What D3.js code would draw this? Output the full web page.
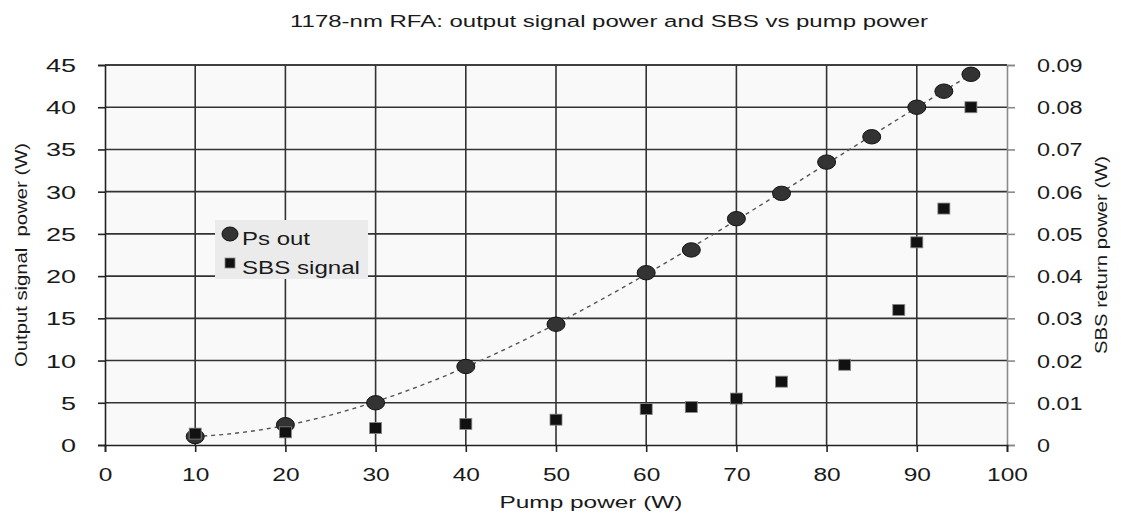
<!DOCTYPE html>
<html><head><meta charset="utf-8">
<script src="https://cdn.jsdelivr.net/npm/d3@7"></script>
<style>body{margin:0;background:#fff}svg{display:block;font-family:"Liberation Sans",Arial,sans-serif}</style>
</head><body>
<svg id="c" width="1121" height="516"></svg>
<script>
// ---- data ----
const pumpPs = [10, 20, 30, 40, 50, 60, 65, 70, 75, 80, 85, 90, 93, 96];
const psOut = [1.0, 2.4, 5.0, 9.3, 14.3, 20.4, 23.1, 26.8, 29.8, 33.5, 36.5, 40.0, 41.9, 43.9];
const pumpSbs = [10, 20, 30, 40, 50, 60, 65, 70, 75, 82, 88, 90, 93, 96];
const sbsSignal = [0.0027, 0.003, 0.004, 0.005, 0.006, 0.0085, 0.009, 0.011, 0.015, 0.019, 0.032, 0.048, 0.056, 0.080];
const xTicks = [0, 10, 20, 30, 40, 50, 60, 70, 80, 90, 100];
const yLeftTicks = [0, 5, 10, 15, 20, 25, 30, 35, 40, 45];
const yRightTicks = [0, 0.01, 0.02, 0.03, 0.04, 0.05, 0.06, 0.07, 0.08, 0.09];
const seriesNames = ["Ps out", "SBS signal"];
const chartTitle = "1178-nm RFA: output signal power and SBS vs pump power";
const xTitle = "Pump power (W)";
const yLeftTitle = "Output signal  power (W)";
const yRightTitle = "SBS return power (W)";

// ---- layout ----
const L = 105, R = 1007, T = 65, B = 445;
const svg = d3.select("#c");
const x = d3.scaleLinear().domain([0, 100]).range([L, R]);
const yL = d3.scaleLinear().domain([0, 45]).range([B, T]);
const yR = d3.scaleLinear().domain([0, 0.09]).range([B, T]);
const txt = "#1a1a1a";

function stretch(sel, s) {
  sel.each(function () {
    const w = this.getComputedTextLength();
    this.setAttribute("textLength", w * s);
    this.setAttribute("lengthAdjust", "spacingAndGlyphs");
  });
}
function fitW(sel, w) {
  sel.attr("textLength", w).attr("lengthAdjust", "spacingAndGlyphs");
}

// background
svg.append("rect").attr("x", L).attr("y", T).attr("width", R - L).attr("height", B - T).attr("fill", "#f9f9f9");

// grid
svg.append("g").selectAll("line").data(yLeftTicks.filter(d => d > 0)).join("line")
  .attr("x1", L).attr("x2", R).attr("y1", d => yL(d)).attr("y2", d => yL(d))
  .attr("stroke", "#333").attr("stroke-width", 1.6);
svg.append("g").selectAll("line").data(xTicks.filter(d => d > 0 && d < 100)).join("line")
  .attr("y1", T).attr("y2", B).attr("x1", d => x(d)).attr("x2", d => x(d))
  .attr("stroke", "#333").attr("stroke-width", 1.6);

// left axis
const gL = svg.append("g").attr("transform", `translate(${L},0)`)
  .call(d3.axisLeft(yL).tickValues(yLeftTicks).tickSize(7).tickPadding(22).tickFormat(d3.format("d")));
gL.select(".domain").attr("stroke", "#222").attr("stroke-width", 1.6);
gL.selectAll(".tick line").attr("stroke", "#222").attr("stroke-width", 1.6);
gL.selectAll(".tick text").attr("font-size", 18).attr("fill", txt).attr("font-family", null).attr("dy", "0.36em").call(stretch, 1.5);

// right axis
const gR = svg.append("g").attr("transform", `translate(${R},0)`)
  .call(d3.axisRight(yR).tickValues(yRightTicks).tickSize(8).tickPadding(22).tickFormat(d => d === 0 ? "0" : d3.format(".2f")(d)));
gR.select(".domain").attr("stroke", "#8a8a8a").attr("stroke-width", 1.6);
gR.selectAll(".tick line").attr("stroke", "#8a8a8a").attr("stroke-width", 1.6);
gR.selectAll(".tick text").attr("font-size", 18).attr("fill", txt).attr("font-family", null).attr("dy", "0.36em").call(stretch, 1.3);

// bottom axis
const gB = svg.append("g").attr("transform", `translate(0,${B})`)
  .call(d3.axisBottom(x).tickValues(xTicks).tickSize(7).tickPadding(17).tickFormat(d3.format("d")));
gB.select(".domain").attr("stroke", "#222").attr("stroke-width", 1.6);
gB.selectAll(".tick line").attr("stroke", "#222").attr("stroke-width", 1.6);
gB.selectAll(".tick text").attr("font-size", 17.5).attr("fill", txt).attr("font-family", null).call(stretch, 1.4);

// top border
svg.append("line").attr("x1", L).attr("x2", R).attr("y1", yL(45)).attr("y2", yL(45))
  .attr("stroke", "#333").attr("stroke-width", 1.6);

// polynomial trendline (least squares, order 3) fitted to Ps out
function polyFit(xs, ys, n) {
  const m = n + 1;
  const A = [];
  for (let r = 0; r < m; r++) {
    const row = [];
    for (let c = 0; c < m; c++) row.push(d3.sum(xs, v => Math.pow(v, r + c)));
    row.push(d3.sum(xs, (v, i) => Math.pow(v, r) * ys[i]));
    A.push(row);
  }
  for (let i = 0; i < m; i++) {
    for (let j = i + 1; j < m; j++) {
      const f = A[j][i] / A[i][i];
      for (let k = i; k <= m; k++) A[j][k] -= f * A[i][k];
    }
  }
  const c = new Array(m).fill(0);
  for (let i = m - 1; i >= 0; i--) {
    let s = A[i][m];
    for (let k = i + 1; k < m; k++) s -= A[i][k] * c[k];
    c[i] = s / A[i][i];
  }
  return v => c.reduce((acc, ci, p) => acc + ci * Math.pow(v, p), 0);
}
const fit = polyFit(pumpPs, psOut, 3);
const xs = d3.range(d3.min(pumpPs), d3.max(pumpPs) + 0.01, 1);
svg.append("path").datum(xs)
  .attr("d", d3.line().x(d => x(d)).y(d => yL(fit(d))))
  .attr("fill", "none").attr("stroke", "#555").attr("stroke-width", 1.4).attr("stroke-dasharray", "4,4");

// Ps out markers
svg.append("g").selectAll("ellipse").data(pumpPs).join("ellipse")
  .attr("cx", d => x(d)).attr("cy", (d, i) => yL(psOut[i])).attr("rx", 9).attr("ry", 7.2)
  .attr("fill", "#333").attr("stroke", "#111").attr("stroke-width", 1);

// SBS markers
svg.append("g").selectAll("rect").data(pumpSbs).join("rect")
  .attr("x", d => x(d) - 6).attr("y", (d, i) => yR(sbsSignal[i]) - 5.5).attr("width", 12).attr("height", 11)
  .attr("fill", "#111").attr("stroke", "#888").attr("stroke-width", 0.8);

// legend
const lg = svg.append("g");
lg.append("rect").attr("x", 215).attr("y", 220).attr("width", 153).attr("height", 59).attr("fill", "#ebebeb");
lg.append("ellipse").attr("cx", 230).attr("cy", 234).attr("rx", 8).attr("ry", 7)
  .attr("fill", "#333").attr("stroke", "#111").attr("stroke-width", 1);
lg.append("rect").attr("x", 225).attr("y", 258).attr("width", 10).attr("height", 10)
  .attr("fill", "#111").attr("stroke", "#888").attr("stroke-width", 0.8);
lg.append("text").attr("x", 242).attr("y", 245).attr("font-size", 18).attr("fill", txt).text(seriesNames[0]).call(fitW, 68);
lg.append("text").attr("x", 242).attr("y", 274).attr("font-size", 18).attr("fill", txt).text(seriesNames[1]).call(fitW, 118);

// titles
svg.append("text").attr("x", 609).attr("y", 27).attr("text-anchor", "middle").attr("font-size", 16.3)
  .attr("fill", txt).text(chartTitle).call(fitW, 638);
svg.append("text").attr("x", 591).attr("y", 508).attr("text-anchor", "middle").attr("font-size", 16.5)
  .attr("fill", txt).text(xTitle).call(fitW, 183);
svg.append("text").attr("transform", "translate(27,255) rotate(-90)").attr("text-anchor", "middle").attr("font-size", 16)
  .attr("fill", txt).style("white-space", "pre").text(yLeftTitle).call(fitW, 224);
svg.append("text").attr("transform", "translate(1107,255) rotate(-90)").attr("text-anchor", "middle").attr("font-size", 16)
  .attr("fill", txt).text(yRightTitle).call(fitW, 198);
</script>
</body></html>
